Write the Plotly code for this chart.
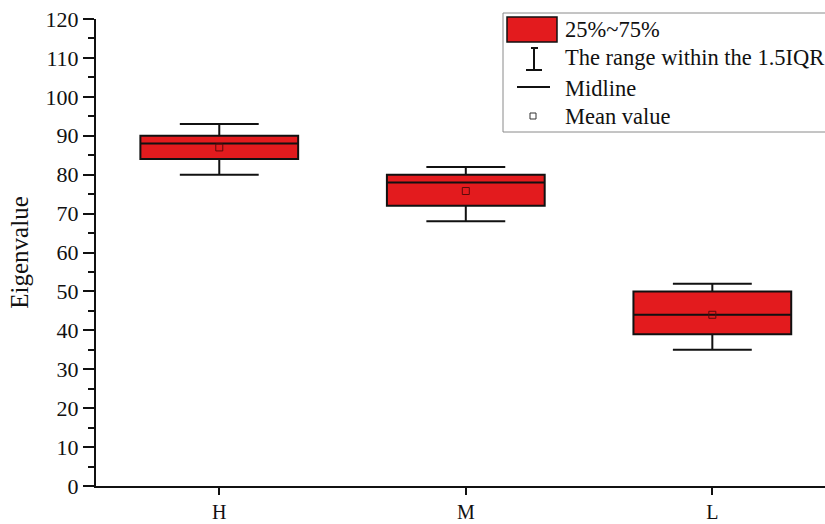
import plotly.graph_objects as go

# ---- data ----
categories = ["H", "M", "L"]
q1 = [84, 72, 39]
q3 = [90, 80, 50]
median = [88, 78, 44]
lower_whisker = [80, 68, 35]
upper_whisker = [93, 82, 52]
mean_vals = [87, 75.8, 44]

legend_labels = ["25%~75%", "The range within the 1.5IQR", "Midline", "Mean value"]

W, H = 825, 524
ML, MR, MT, MB = 96, 0, 19, 38
PW, PH = W - ML - MR, H - MT - MB
FONT = "Liberation Serif"
RED = "#e31b1e"


def px(x):
    return (x - ML) / PW


def py(y):
    return (H - MB - y) / PH


fig = go.Figure()
fig.add_trace(go.Box(
    x=categories, q1=q1, q3=q3, median=median,
    lowerfence=lower_whisker, upperfence=upper_whisker,
    fillcolor=RED, line=dict(color="#111111", width=2),
    width=0.64, whiskerwidth=0.5, boxpoints=False, showlegend=False,
    hoverinfo="skip",
))
fig.add_trace(go.Scatter(
    x=categories, y=mean_vals, mode="markers",
    marker=dict(symbol="square-open", size=7, color="#5a0a0a", line=dict(width=1)),
    showlegend=False, hoverinfo="skip",
))

shapes = []
annotations = []
# legend frame
shapes.append(dict(type="rect", xref="paper", yref="paper",
                   x0=px(503), x1=px(835), y0=py(132), y1=py(13),
                   line=dict(color="#8a8a8a", width=1), fillcolor="white", layer="above"))
# red box symbol
shapes.append(dict(type="rect", xref="paper", yref="paper",
                   x0=px(507), x1=px(557), y0=py(42), y1=py(17),
                   line=dict(color="#111111", width=1.5), fillcolor=RED, layer="above"))
# I symbol
for (x0, y0, x1, y1) in [(534, 48, 534, 70), (531, 48, 538, 48), (526, 70, 542, 70)]:
    shapes.append(dict(type="line", xref="paper", yref="paper",
                       x0=px(x0), x1=px(x1), y0=py(y0), y1=py(y1),
                       line=dict(color="#111111", width=2), layer="above"))
# midline symbol
shapes.append(dict(type="line", xref="paper", yref="paper",
                   x0=px(517), x1=px(550), y0=py(87), y1=py(87),
                   line=dict(color="#111111", width=2), layer="above"))
# mean symbol
shapes.append(dict(type="rect", xref="paper", yref="paper",
                   x0=px(530), x1=px(536), y0=py(119), y1=py(113),
                   line=dict(color="#333333", width=1), fillcolor="white", layer="above"))

for label, yc in zip(legend_labels, [30, 58, 88, 116]):
    annotations.append(dict(text=label, xref="paper", yref="paper",
                            x=px(563), y=py(yc), xanchor="left", yanchor="middle",
                            showarrow=False, font=dict(family=FONT, size=22.5, color="#111111")))

fig.update_layout(
    width=W, height=H,
    margin=dict(l=ML, r=MR, t=MT, b=MB, autoexpand=False),
    paper_bgcolor="white", plot_bgcolor="white",
    font=dict(family=FONT, size=22, color="#111111"),
    shapes=shapes, annotations=annotations,
    showlegend=False,
)
fig.update_xaxes(
    type="category", range=[-0.5, 2.457], automargin=False,
    showline=True, linecolor="#111111", linewidth=2,
    ticks="outside", ticklen=7, tickwidth=2, tickcolor="#111111",
    showgrid=False, zeroline=False,
    tickfont=dict(family=FONT, size=20),
)
fig.update_yaxes(
    range=[0, 120], dtick=10, tick0=0, automargin=False,
    showline=True, linecolor="#111111", linewidth=2,
    ticks="outside", ticklen=11, tickwidth=2, tickcolor="#111111",
    minor=dict(ticks="outside", ticklen=6, tickwidth=2, tickcolor="#111111", dtick=5),
    showgrid=False, zeroline=False,
    tickfont=dict(family=FONT, size=22),
    title=dict(text="Eigenvalue", font=dict(family=FONT, size=25), standoff=10),
)

fig.write_html("out.html")
